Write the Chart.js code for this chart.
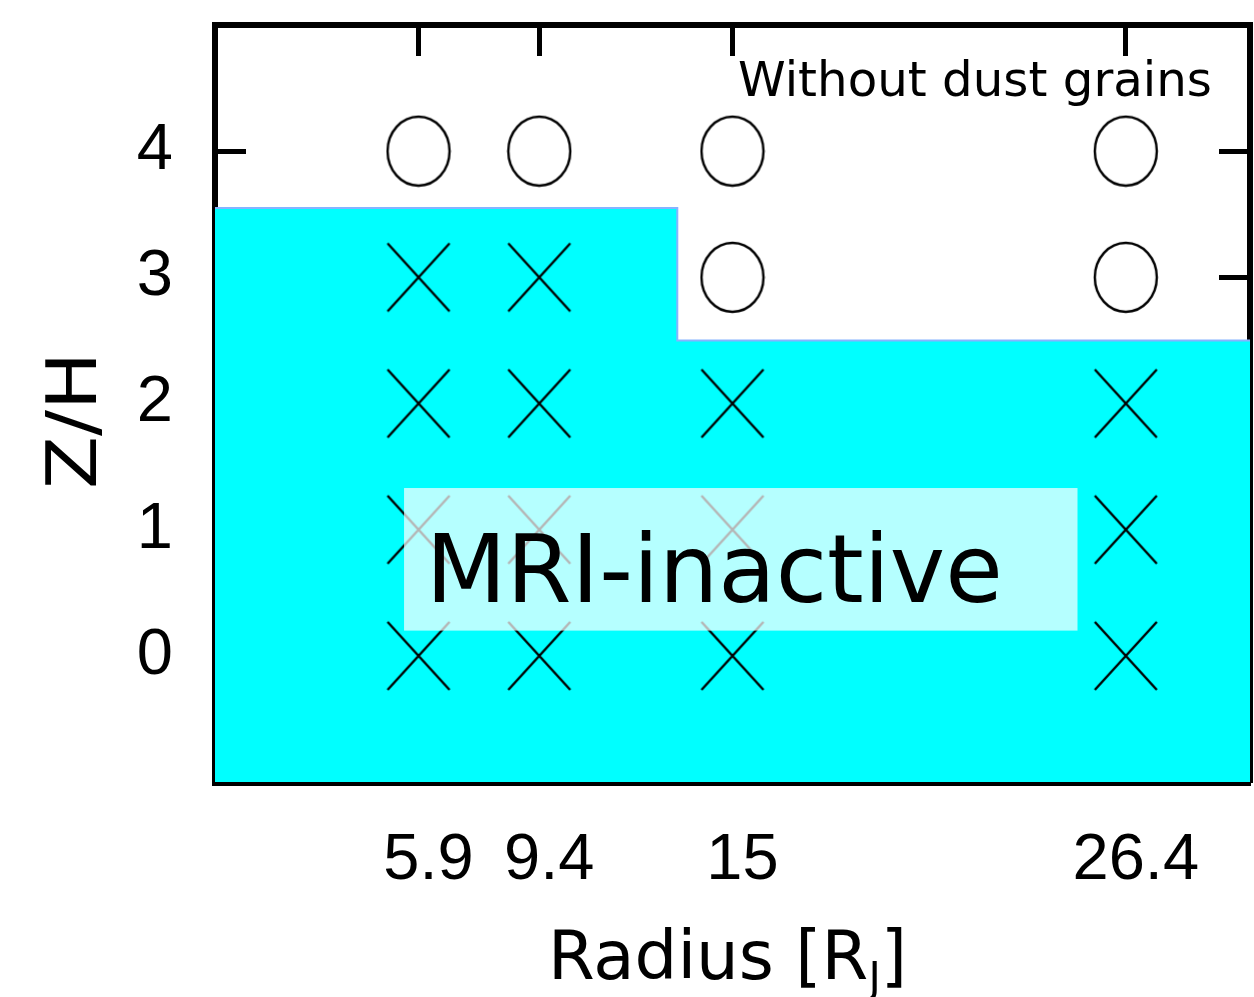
<!DOCTYPE html>
<html>
<head>
<meta charset="utf-8">
<script src="https://cdn.jsdelivr.net/npm/chart.js@4.4.1/dist/chart.umd.min.js"></script>
<style>
  html, body { margin: 0; padding: 0; background: #fff; }
  #wrap { width: 1254px; height: 997px; }
</style>
</head>
<body>
<div id="wrap"><canvas id="chart" width="1254" height="997"></canvas></div>
<script>
// ---- data ----
const radiusTicks = [5.9, 9.4, 15, 26.4];
const radiusTickLabels = ["5.9", "9.4", "15", "26.4"];
const zTicks = [0, 1, 2, 3, 4];
const zTickLabels = ["0", "1", "2", "3", "4"];

// MRI-active cells (open circles)
const activeR = [5.9, 9.4, 15, 26.4, 15, 26.4];
const activeZ = [4, 4, 4, 4, 3, 3];

// MRI-inactive cells (crosses)
const inactiveR = [5.9, 9.4, 5.9, 9.4, 15, 26.4, 5.9, 9.4, 15, 26.4, 5.9, 9.4, 15, 26.4];
const inactiveZ = [3, 3, 2, 2, 2, 2, 1, 1, 1, 1, 0, 0, 0, 0];

// upper edge of the dead (cyan) zone
const boundaryR = [0, 13.4, 13.4, 30];
const boundaryZ = [3.55, 3.55, 2.5, 2.5];

const COMIC = '"DejaVu Sans", sans-serif';

function $(id){ return document.getElementById(id); }

function toXY(xs, ys){ return xs.map((x, i) => ({ x, y: ys[i] })); }

// marker images, slightly taller than wide like the original
function ellipseMarker(w, h){
  const c = document.createElement("canvas");
  c.width = w + 4; c.height = h + 4;
  const g = c.getContext("2d");
  g.strokeStyle = "#000"; g.lineWidth = 2.4;
  g.beginPath();
  g.ellipse(c.width/2, c.height/2, w/2, h/2, 0, 0, Math.PI*2);
  g.stroke();
  return c;
}
function crossMarker(w, h){
  const c = document.createElement("canvas");
  c.width = w + 4; c.height = h + 4;
  const g = c.getContext("2d");
  g.strokeStyle = "#000"; g.lineWidth = 2.4;
  g.beginPath();
  g.moveTo(2, 2); g.lineTo(2 + w, 2 + h);
  g.moveTo(2 + w, 2); g.lineTo(2, 2 + h);
  g.stroke();
  return c;
}

// draw text squeezed/stretched to a given cap height and width
function fitText(ctx, parts, x, base, capH, width){
  const size = capH / 0.73;
  let total = 0;
  const m = parts.map(p => {
    const s = p.sub ? size * 0.62 : size;
    ctx.font = `${s}px ${COMIC}`;
    const w = ctx.measureText(p.t).width;
    total += w;
    return { ...p, s, w };
  });
  const sx = width / total;
  ctx.save();
  ctx.translate(x, base);
  ctx.scale(sx, 1);
  ctx.fillStyle = "#000";
  ctx.textBaseline = "alphabetic";
  ctx.textAlign = "left";
  let cx = 0;
  m.forEach(p => {
    ctx.font = `${p.s}px ${COMIC}`;
    ctx.fillText(p.t, cx, p.sub ? size * 0.19 : 0);
    cx += p.w;
  });
  ctx.restore();
}

const overlay = {
  id: "overlay",
  afterDatasetsDraw(chart){
    const { ctx, scales: { x, y } } = chart;
    // translucent label box over the dead zone
    const bx0 = x.getPixelForValue(5.48), bx1 = x.getPixelForValue(25.0);
    const by0 = y.getPixelForValue(1.33), by1 = y.getPixelForValue(0.2);
    ctx.save();
    ctx.fillStyle = "rgba(255,255,255,0.71)";
    ctx.fillRect(bx0, by0, bx1 - bx0, by1 - by0);
    ctx.restore();
    fitText(ctx, [{ t: "MRI-inactive" }], x.getPixelForValue(6.11), y.getPixelForValue(0.43), 69, 577);
    fitText(ctx, [{ t: "Without dust grains" }], x.getPixelForValue(15.16), y.getPixelForValue(4.44), 35, 474);
  },
  afterDraw(chart){
    const { ctx } = chart;
    // axis titles
    fitText(ctx, [{ t: "Radius [R" }, { t: "J", sub: true }, { t: "]" }], 548, 979, 50, 359);
    ctx.save();
    ctx.translate(96, 489);
    ctx.rotate(-Math.PI / 2);
    fitText(ctx, [{ t: "Z/H" }], 0, 0, 51, 137);
    ctx.restore();
  }
};

function axis(pos, min, max, ticks, labels, size, showLabels, border, tickW){
  const horiz = pos === "top" || pos === "bottom";
  return {
    type: "linear",
    position: pos,
    min, max,
    z: 1,
    afterBuildTicks: s => { s.ticks = ticks.map(v => ({ value: v })); },
    afterFit: s => {
      if (horiz) s.height = size; else s.width = size;
      s.paddingTop = s.paddingBottom = s.paddingLeft = s.paddingRight = 0;
    },
    border: { display: true, color: "#000", width: border },
    grid: { drawOnChartArea: false, drawTicks: true, tickLength: -31, tickWidth: tickW, tickColor: "#000" },
    ticks: {
      display: showLabels,
      color: "#000",
      font: { family: '"Liberation Sans", Arial, sans-serif', size: 65 },
      padding: horiz ? 71 : 73,
      labelOffset: horiz ? 10 : 0,
      maxRotation: 0,
      autoSkip: false,
      callback: v => labels[ticks.indexOf(v)] ?? ""
    }
  };
}

new Chart($("chart").getContext("2d"), {
  type: "scatter",
  data: {
    datasets: [
      {
        label: "dead zone",
        type: "line",
        data: toXY(boundaryR, boundaryZ),
        borderColor: "#86b4ff",
        borderWidth: 2,
        backgroundColor: "#00ffff",
        fill: "start",
        pointRadius: 0,
        tension: 0,
        order: 3
      },
      {
        label: "MRI-inactive",
        data: toXY(inactiveR, inactiveZ),
        pointStyle: crossMarker(62, 68),
        pointRadius: 2,
        order: 2
      },
      {
        label: "MRI-active",
        data: toXY(activeR, activeZ),
        pointStyle: ellipseMarker(62, 69),
        pointRadius: 2,
        order: 1
      }
    ]
  },
  options: {
    responsive: false,
    animation: false,
    devicePixelRatio: 1,
    layout: { padding: 0, autoPadding: false },
    plugins: { legend: { display: false }, tooltip: { enabled: false } },
    scales: {
      x: axis("bottom", 0, 30, radiusTicks, radiusTickLabels, 215, true, 7, 3.6),
      x2: axis("top", 0, 30, radiusTicks, radiusTickLabels, 25, false, 6, 5),
      y: axis("left", -1, 5, zTicks, zTickLabels, 215, true, 6, 5),
      y2: axis("right", -1, 5, zTicks, zTickLabels, 4, false, 6, 5)
    }
  },
  plugins: [overlay]
});
</script>
</body>
</html>
